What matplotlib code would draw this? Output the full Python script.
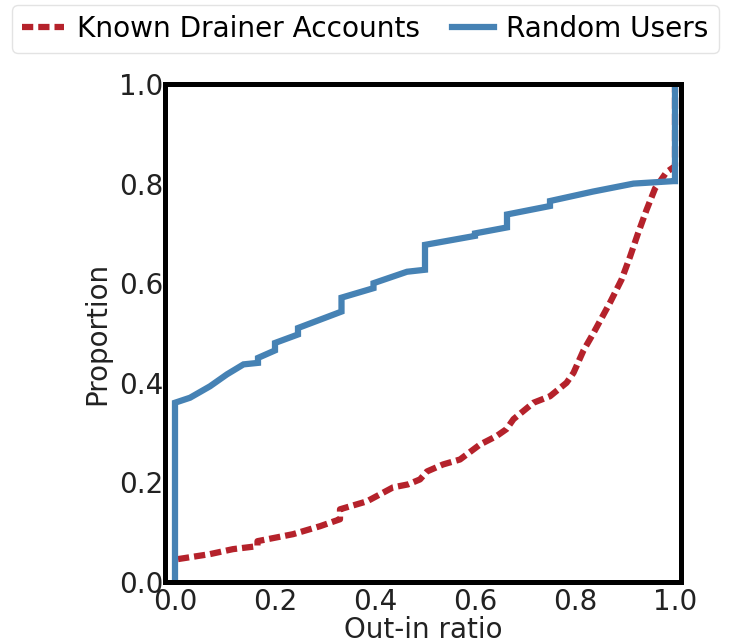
import matplotlib
matplotlib.use("Agg")
import matplotlib.pyplot as plt

# -----------------------------------------------------------
# CDF-Werte
# -----------------------------------------------------------
random_x = [0.0, 0.0, 0.03, 0.07, 0.104, 0.137, 0.166, 0.166, 0.2, 0.2,
            0.246, 0.246, 0.333, 0.333, 0.397, 0.397, 0.464, 0.5, 0.5,
            0.6, 0.6, 0.664, 0.664, 0.75, 0.75, 0.836, 0.917, 0.997, 1.0, 1.0]
random_y = [0.0, 0.36, 0.37, 0.393, 0.417, 0.437, 0.44, 0.45, 0.465, 0.48,
            0.497, 0.51, 0.543, 0.571, 0.59, 0.60, 0.623, 0.627, 0.677,
            0.695, 0.70, 0.712, 0.738, 0.755, 0.765, 0.784, 0.80, 0.805, 0.805, 1.0]

drainer_x = [0.006, 0.07, 0.116, 0.165, 0.165, 0.236, 0.29, 0.33, 0.33,
             0.384, 0.436, 0.466, 0.49, 0.504, 0.536, 0.57, 0.61, 0.643,
             0.663, 0.677, 0.717, 0.75, 0.783, 0.797, 0.817, 0.837, 0.87,
             0.893, 0.91, 0.926, 0.943, 0.96, 0.983, 1.0, 1.0]
drainer_y = [0.046, 0.056, 0.066, 0.072, 0.082, 0.096, 0.112, 0.126, 0.146,
             0.162, 0.19, 0.196, 0.206, 0.222, 0.236, 0.246, 0.276, 0.293,
             0.307, 0.327, 0.36, 0.373, 0.40, 0.42, 0.465, 0.50, 0.561,
             0.607, 0.653, 0.70, 0.747, 0.79, 0.823, 0.835, 1.0]

x_ticks = [0.0, 0.2, 0.4, 0.6, 0.8, 1.0]
y_ticks = [0.0, 0.2, 0.4, 0.6, 0.8, 1.0]

COLOR_RED = "#b5222b"
COLOR_BLUE = "#4682b4"
FS = 20

fig = plt.figure(figsize=(7.32, 6.44), dpi=100)
ax = fig.add_axes([165 / 732, 1 - 582 / 644, 516 / 732, 498 / 644])

line_red, = ax.plot(drainer_x, drainer_y, color=COLOR_RED, linewidth=4.5,
                    linestyle=(0, (1.8, 0.8)), label="Known Drainer Accounts")
line_blue, = ax.plot(random_x, random_y, color=COLOR_BLUE, linewidth=4.5,
                     label="Random Users", solid_joinstyle="miter")

ax.set_xlim(-0.02, 1.012)
ax.set_ylim(0, 1)
ax.set_xticks(x_ticks)
ax.set_yticks(y_ticks)
ax.set_xticklabels([f"{t:.1f}" for t in x_ticks])
ax.set_yticklabels([f"{t:.1f}" for t in y_ticks])
ax.tick_params(axis="both", length=0, labelsize=FS, colors="#222222")
ax.tick_params(axis="x", pad=4)
ax.tick_params(axis="y", pad=1)

for spine in ax.spines.values():
    spine.set_linewidth(3.6)
    spine.set_color("black")

ax.set_xlabel("Out-in ratio", fontsize=FS, color="#222222", labelpad=0)
ax.set_ylabel("Proportion", fontsize=FS, color="#222222", labelpad=6)

fig.legend(handles=[line_red, line_blue], loc="upper left",
           bbox_to_anchor=(12 / 732, 1 - 5 / 644), ncol=2, fontsize=20.2,
           frameon=True, fancybox=True, edgecolor="#dddddd",
           handlelength=1.5, columnspacing=1.15, handletextpad=0.45,
           borderpad=0.35, borderaxespad=0)

fig.savefig("out.png", dpi=100)
